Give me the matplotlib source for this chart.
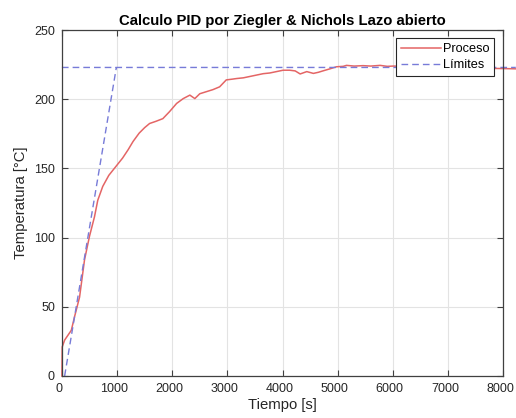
import numpy as np
import matplotlib
matplotlib.use("Agg")
import matplotlib.pyplot as plt
import matplotlib.transforms as mtransforms

plt.rcParams['font.family'] = ['Liberation Sans', 'DejaVu Sans']

# Process response
tiempo = [0, 5, 50, 170, 230, 320, 410, 500, 590, 650, 740, 850, 990, 1100, 1200,
          1290, 1400, 1500, 1590, 1700, 1830, 1950, 2080, 2200, 2320, 2410, 2500,
          2620, 2740, 2860, 2980, 3080, 3170, 3290, 3410, 3530, 3650, 3770, 3890,
          4010, 4130, 4230, 4320, 4440, 4560, 4650, 4740, 4860, 4980, 5100, 5160,
          5300, 5460, 5600, 5770, 5900, 6010, 6200, 6500, 6800, 7100, 7400, 7700,
          7830, 8000, 8230]
temperatura = [0, 21, 26, 33, 43, 57, 84, 101, 115, 127, 137, 145, 152, 157.5, 163.5,
               169.5, 175.5, 179.5, 182.5, 184, 186, 191, 197, 200.5, 203, 200.5, 204,
               205.5, 207, 209, 214, 214.5, 215, 215.5, 216.5, 217.5, 218.5, 219, 220,
               221, 221, 220.5, 218.3, 220, 218.7, 219.5, 220.6, 222, 223.5, 223.8, 224.5,
               224, 224.3, 224, 224.5, 223.8, 224, 223.8, 223.5, 223.3, 223, 222.8, 222.5,
               222.3, 222.2, 222]

# Limits: horizontal final value and tangent line (NaN separates segments)
lim_t = [0, 8230, np.nan, 49, 987]
lim_v = [223, 223, np.nan, 0, 223]

fig = plt.figure(figsize=(5.16, 4.18), dpi=100)
ax = fig.add_axes([0.120, 0.1005, 0.855, 0.8275])

ax.plot(tiempo, temperatura, color='#e46565', lw=1.1, label='Proceso', clip_on=False)
ax.plot(lim_t, lim_v, color='#777bd8', lw=1.0, ls=(0, (4.8, 2.9)), label='Límites', clip_on=False)

ax.set_xlim(0, 8000)
ax.set_ylim(0, 250)
ax.set_xticks(np.arange(0, 8001, 1000))
ax.set_yticks(np.arange(0, 251, 50))
ax.grid(True, color='#e3e3e3', lw=0.8)
ax.set_axisbelow(True)
ax.tick_params(direction='in', top=True, right=True, length=4, width=0.8, pad=5,
               labelsize=9, colors='#404040', labelcolor='#262626')
for s in ax.spines.values():
    s.set_color('#404040')
    s.set_linewidth(0.9)

# x tick labels sit a little left of their ticks in the reference
shift = mtransforms.ScaledTranslation(-3 / 100, 0, fig.dpi_scale_trans)
for lab in ax.get_xticklabels():
    lab.set_transform(lab.get_transform() + shift)

ax.set_title('Calculo PID por Ziegler & Nichols Lazo abierto', fontsize=10.7,
             fontweight='bold', pad=4)
ax.set_xlabel('Tiempo [s]', fontsize=10.7, labelpad=2, color='#262626')
ax.set_ylabel('Temperatura [°C]', fontsize=10.7, labelpad=4, color='#262626')

leg = ax.legend(loc='upper right', bbox_to_anchor=(0.980, 0.977), borderaxespad=0,
                fontsize=9.2, fancybox=False, framealpha=1,
                edgecolor='#262626', handlelength=3.1, handletextpad=0.15,
                borderpad=0.4, labelspacing=0.3)
leg.get_frame().set_linewidth(0.8)
leg.set_zorder(5)

fig.savefig('out.png', dpi=100)
